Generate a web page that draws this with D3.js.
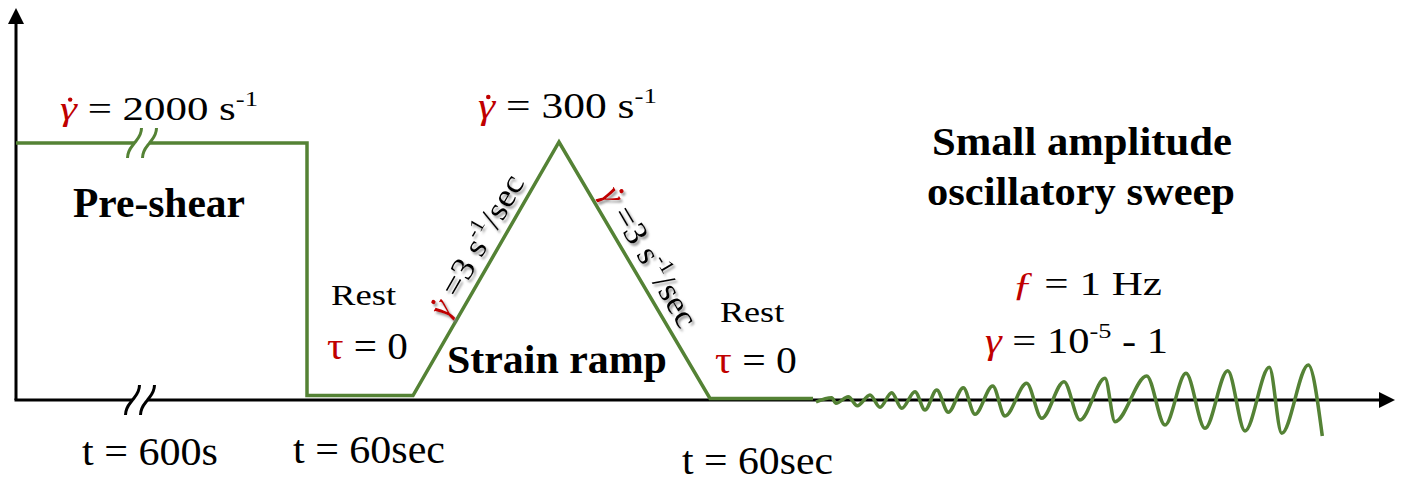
<!DOCTYPE html>
<html><head><meta charset="utf-8">
<script src="https://cdn.jsdelivr.net/npm/d3@7"></script>
<style>html,body{margin:0;padding:0;background:#fff;}svg{display:block;}</style>
</head><body>
<svg id="chart" width="1409" height="483"></svg>
<script>
// ---- data (schematic units: time-like x, level y) ----
const profileX = [0, 291, 291, 397, 543, 694, 797];
const profileY = [257, 257, 4.5, 4.5, 258, 1.5, 1.5];
const waveX = [800, 815.7, 820, 832.3, 841.3, 854, 864, 875.7, 885.7, 899, 909, 920.7, 932.3, 947.3, 959, 976.7, 989, 1010.7, 1025.7, 1048, 1064, 1089, 1099, 1130.7, 1149, 1170, 1189, 1211.7, 1229, 1253.3, 1265.7, 1292.3, 1306.3];
const waveY = [-2, 2.3, -3.3, 3.3, -5.7, 5, -7.3, 7.3, -8.3, 8.3, -10, 10, -12.3, 12.3, -14.3, 14, -16, 16.7, -18.3, 18.3, -20, 21.7, -21.7, 24, -25, 26.7, -28.3, 29.3, -31, 32.7, -33.3, 35, -36];
const breakX = [124, 126];
const breakY = [0, 257];
const timeLabels = ["t = 600s", "t = 60sec", "t = 60sec"];
const stageLabels = ["Pre-shear", "Strain ramp", "Small amplitude", "oscillatory sweep"];
const restLabels = ["Rest", "Rest"];

const RED = "#C00000", GREEN = "#548235";
const FONT = "'Liberation Serif','Times New Roman',serif";

const svg = d3.select("#chart");
const x = d3.scaleLinear().domain([0, 1379]).range([16, 1395]);
const y = d3.scaleLinear().domain([0, 258]).range([400, 142]);

const defs = svg.append("defs");
const f = defs.append("filter").attr("id","shadow").attr("x","-20%").attr("y","-20%").attr("width","140%").attr("height","140%");
f.append("feDropShadow").attr("dx",2).attr("dy",2.5).attr("stdDeviation",1.3).attr("flood-color","#777").attr("flood-opacity",0.75);

// ---- axes ----
const ax = svg.append("g");
const yTip = 392, xTip = 1379;
ax.append("line").attr("x1",x(0)).attr("y1",y(0)).attr("x2",x(0)).attr("y2",y(yTip)+12)
  .attr("stroke","#000").attr("stroke-width",3);
ax.append("line").attr("x1",x(0)-1.5).attr("y1",y(0)).attr("x2",x(xTip)-12).attr("y2",y(0))
  .attr("stroke","#000").attr("stroke-width",3);
ax.append("path").attr("d",`M${x(0)},${y(yTip)} L${x(0)+8},${y(yTip)+16} L${x(0)-8},${y(yTip)+16} Z`).attr("fill","#000");
ax.append("path").attr("d",`M${x(xTip)},${y(0)} L${x(xTip)-16},${y(0)-8} L${x(xTip)-16},${y(0)+8} Z`).attr("fill","#000");

// ---- profile ----
const line = d3.line().x(d=>x(d[0])).y(d=>y(d[1]));
svg.append("path").datum(profileX.map((v,i)=>[v,profileY[i]]))
  .attr("d", line).attr("fill","none").attr("stroke",GREEN).attr("stroke-width",3.5).attr("stroke-linejoin","miter");
svg.append("path").datum(waveX.map((v,i)=>[v,waveY[i]]))
  .attr("d", d3.line().x(d=>x(d[0])).y(d=>y(d[1])).curve(d3.curveMonotoneX))
  .attr("fill","none").attr("stroke",GREEN).attr("stroke-width",3.5);

// ---- break marks ----
breakX.forEach((bx,i)=>{
  const cx = x(bx), cy = y(breakY[i]);
  const col = i===0 ? "#000" : GREEN;
  const g = svg.append("g");
  g.append("rect").attr("x",cx-8).attr("y",cy-4).attr("width",16).attr("height",8).attr("fill","#fff");
  [-7.5, 7.5].forEach(o=>{
    g.append("path").attr("d",`M${cx+o-7},${cy+15} C${cx+o-7},${cy+7} ${cx+o-2},${cy+3} ${cx+o},${cy} S${cx+o+7},${cy-7} ${cx+o+7},${cy-15}`)
      .attr("fill","none").attr("stroke",col).attr("stroke-width",3);
  });
});

// ---- labels ----
function label(parent, parts, fs, opts) {
  const g = parent.append("g");
  const t = g.append("text").attr("font-family",FONT).attr("font-size",fs)
    .attr("font-weight", opts.bold ? "bold" : "normal").attr("fill","#000");
  parts.forEach(p=>{
    const ts = t.append("tspan").text(p.t);
    if (p.fill) ts.attr("fill", p.fill);
    if (p.italic) ts.attr("font-style","italic");
    if (p.sup) { ts.attr("font-size", fs*0.62).attr("dy", -0.42*fs); }
    if (p.after) ts.attr("dy", 0.42*fs);
  });
  if (opts.anchor) t.attr("text-anchor", opts.anchor);
  if (opts.dy) t.attr("dy", opts.dy);
  let sx = 1;
  if (opts.w) { const bb = t.node().getBBox(); sx = opts.w / bb.width; }
  if (opts.dot) {
    // dot above the first glyph (gamma-dot)
    const e = t.node().getExtentOfChar(0);
    const base = opts.dy ? 0.33*fs : 0;
    g.append("ellipse").attr("cx", e.x + e.width*0.6).attr("cy", base - 0.6*fs)
      .attr("rx", 0.065*fs/sx).attr("ry", 0.065*fs).attr("fill", RED);
  }
  const rot = opts.rot ? ` rotate(${opts.rot})` : "";
  g.attr("transform", `translate(${opts.x},${opts.y})${rot} scale(${sx},1)`);
  return g;
}
const G = {t:"\u03B3",fill:RED,italic:true};
const L = svg.append("g");
label(L, [G,{t:" = 2000 s"},{t:"-1",sup:true}], 34, {x:60,y:120,w:198,dot:true});
label(L, [G,{t:" = 300 s"},{t:"-1",sup:true}], 35, {x:478,y:118,w:179,dot:true});
label(L, [{t:stageLabels[0]}], 42, {x:73,y:217,w:172,bold:true});
label(L, [{t:stageLabels[1]}], 41, {x:447,y:373,w:220,bold:true});
label(L, [{t:stageLabels[2]}], 41, {x:932,y:155,w:300,bold:true});
label(L, [{t:stageLabels[3]}], 41, {x:927,y:205,w:308,bold:true});
label(L, [{t:"\u0192",fill:RED,italic:true},{t:" = 1 Hz"}], 34, {x:1012,y:295,w:150});
label(L, [G,{t:" = 10"},{t:"-5",sup:true},{t:" - 1",after:true}], 35, {x:985,y:353,w:183});
label(L, [{t:restLabels[0]}], 30, {x:331,y:305,w:66});
label(L, [{t:"\u03C4",fill:RED},{t:" = 0"}], 38, {x:327,y:359,w:81});
label(L, [{t:restLabels[1]}], 30, {x:720,y:322,w:65});
label(L, [{t:"\u03C4",fill:RED},{t:" = 0"}], 38, {x:715,y:373,w:82});
label(L, [{t:timeLabels[0]}], 40, {x:82,y:465,w:136});
label(L, [{t:timeLabels[1]}], 40, {x:293,y:463,w:152});
label(L, [{t:timeLabels[2]}], 40, {x:682,y:474,w:151});

// slanted ramp-rate labels placed along the ramp segments
function slant(p0, p1, t, off, side) {
  const X0 = x(p0[0]), Y0 = y(p0[1]), X1 = x(p1[0]), Y1 = y(p1[1]);
  const len = Math.hypot(X1-X0, Y1-Y0), ux = (X1-X0)/len, uy = (Y1-Y0)/len;
  const nx = side*uy, ny = -side*ux;
  const cx = X0 + ux*len*t + nx*off, cy = Y0 + uy*len*t + ny*off;
  const ang = Math.atan2(uy, ux)*180/Math.PI;
  const g = svg.append("g").attr("filter","url(#shadow)");
  label(g, [G,{t:" =3 s"},{t:"-1",sup:true},{t:"/sec",after:true}], 33,
    {x:cx, y:cy, rot:ang, anchor:"middle", dy:"0.33em", w:158, dot:true});
}
slant([profileX[3],profileY[3]], [profileX[4],profileY[4]], 0.553, 20, 1);
slant([profileX[4],profileY[4]], [profileX[5],profileY[5]], 0.486, 20, 1);
</script>
</body></html>
